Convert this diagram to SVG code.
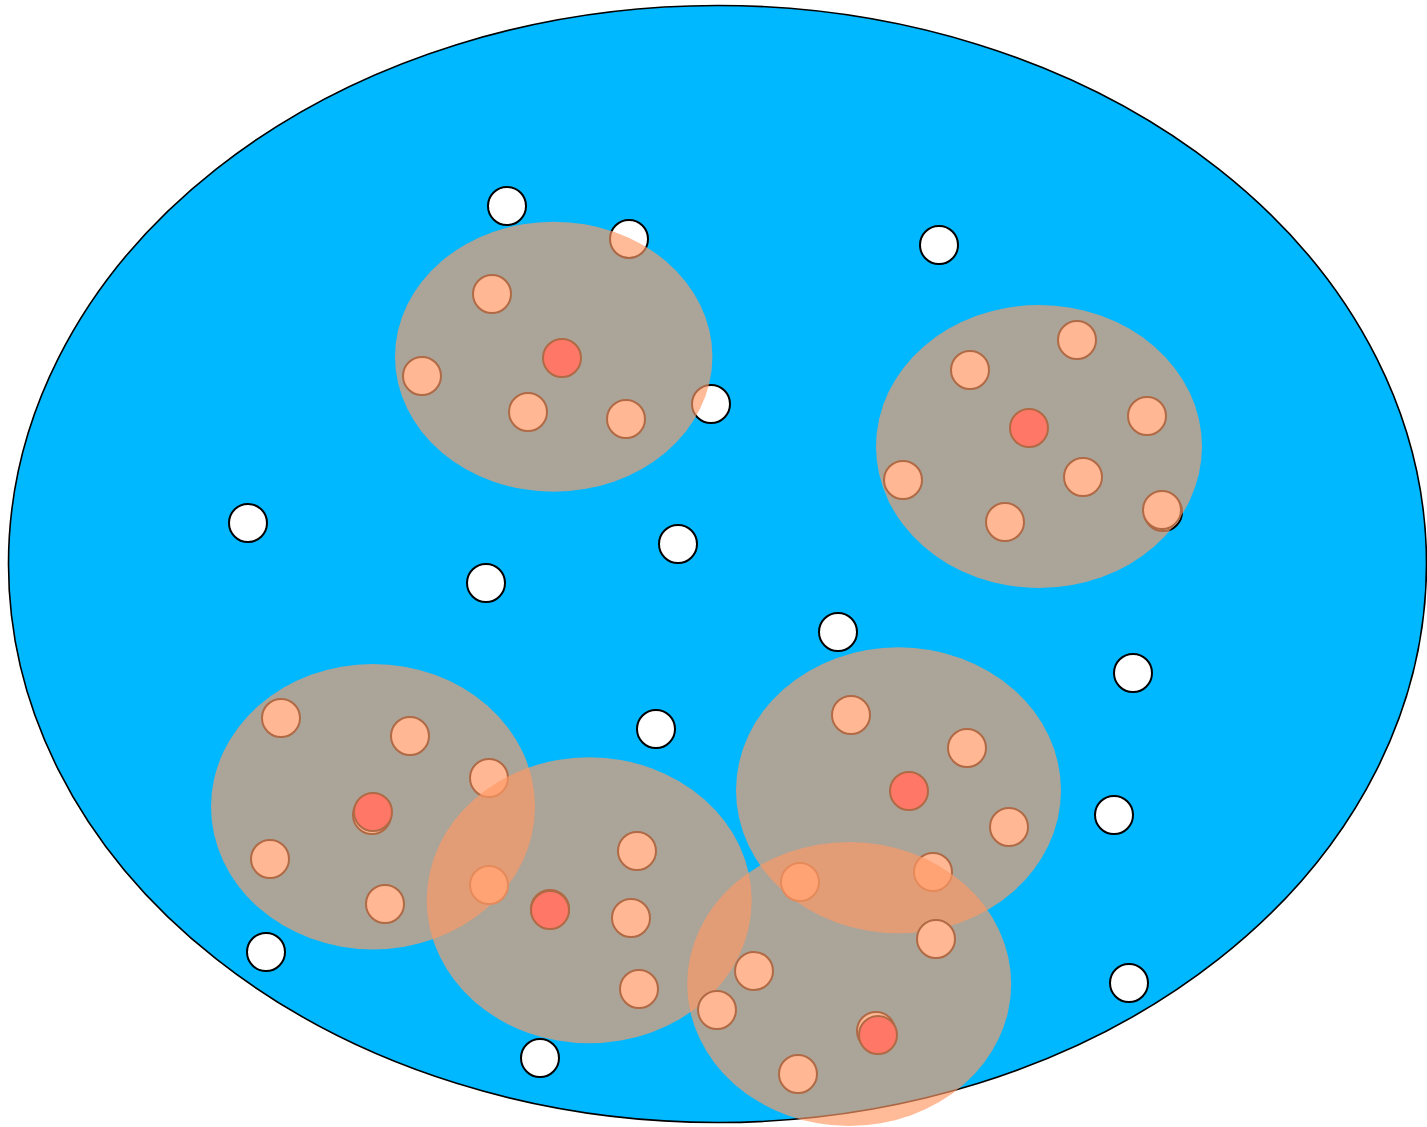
<svg xmlns="http://www.w3.org/2000/svg" width="1427" height="1127" viewBox="0 0 1427 1127">
<style>
.world{fill:#00B8FF;stroke:#000;stroke-width:1.6}
.free{fill:#FFFFFF;stroke:#000;stroke-width:2}
.zone{fill:#FF9966;fill-opacity:0.67;stroke:none}
.m{fill:#FFB794;stroke:#B06A45;stroke-width:2}
.h{fill:#FF7766;stroke:#B06A45;stroke-width:2}
</style>
<rect width="1427" height="1127" fill="#FFFFFF"/>
<g id="world"><ellipse class="world" cx="717.5" cy="564" rx="709" ry="558.5"/></g>
<g id="free-nodes">
<circle id="w1" class="free" cx="507" cy="206" r="19"/>
<circle id="w2" class="free" cx="629" cy="239" r="19"/>
<circle id="w3" class="free" cx="711" cy="404" r="19"/>
<circle id="w4" class="free" cx="939" cy="245" r="19"/>
<circle id="w5" class="free" cx="248" cy="523" r="19"/>
<circle id="w6" class="free" cx="486" cy="583" r="19"/>
<circle id="w7" class="free" cx="678" cy="544" r="19"/>
<circle id="w8" class="free" cx="838" cy="632" r="19"/>
<circle id="w9" class="free" cx="1133" cy="673" r="19"/>
<circle id="w10" class="free" cx="656" cy="729" r="19"/>
<circle id="w11" class="free" cx="1114" cy="815" r="19"/>
<circle id="w12" class="free" cx="266" cy="952" r="19"/>
<circle id="w13" class="free" cx="1129" cy="983" r="19"/>
<circle id="w14" class="free" cx="540" cy="1058" r="19"/>
<circle id="w15" class="free" cx="1163" cy="512" r="19"/>
</g>
<g id="cluster1">
<ellipse class="zone" cx="553.7" cy="356.7" rx="158.7" ry="135"/>
<circle class="m" cx="492" cy="294" r="19"/>
<circle class="m" cx="422" cy="376" r="19"/>
<circle class="m" cx="528" cy="412" r="19"/>
<circle class="m" cx="626" cy="419" r="19"/>
<circle class="h" cx="562" cy="358" r="19"/>
</g>
<g id="cluster2">
<ellipse class="zone" cx="1039" cy="446.5" rx="163" ry="141.5"/>
<circle class="m" cx="970" cy="370" r="19"/>
<circle class="m" cx="1077" cy="340" r="19"/>
<circle class="m" cx="1147" cy="416" r="19"/>
<circle class="m" cx="903" cy="480" r="19"/>
<circle class="m" cx="1083" cy="477" r="19"/>
<circle class="m" cx="1005" cy="522" r="19"/>
<circle class="m" cx="1162" cy="510" r="19"/>
<circle class="h" cx="1029" cy="428" r="19"/>
</g>
<g id="cluster3">
<ellipse class="zone" cx="373" cy="806.7" rx="162" ry="142.7"/>
<circle class="m" cx="281" cy="718" r="19"/>
<circle class="m" cx="410" cy="736" r="19"/>
<circle class="m" cx="489" cy="778" r="19"/>
<circle class="m" cx="270" cy="859" r="19"/>
<circle class="m" cx="385" cy="904" r="19"/>
<circle class="m" cx="489" cy="885" r="19"/>
<circle class="m" cx="372" cy="815" r="19"/>
<circle class="h" cx="373" cy="812" r="19"/>
</g>
<g id="cluster4">
<ellipse class="zone" cx="589.2" cy="900.3" rx="162.5" ry="143"/>
<circle class="m" cx="637" cy="851" r="19"/>
<circle class="m" cx="631" cy="918" r="19"/>
<circle class="m" cx="639" cy="989" r="19"/>
<circle class="m" cx="550" cy="909" r="19"/>
<circle class="h" cx="550" cy="910" r="19"/>
</g>
<g id="cluster5">
<ellipse class="zone" cx="898.5" cy="790.3" rx="162.5" ry="143"/>
<circle class="m" cx="851" cy="715" r="19"/>
<circle class="m" cx="967" cy="748" r="19"/>
<circle class="m" cx="1009" cy="827" r="19"/>
<circle class="m" cx="800" cy="882" r="19"/>
<circle class="m" cx="933" cy="872" r="19"/>
<circle class="h" cx="909" cy="791" r="19"/>
</g>
<g id="cluster6">
<ellipse class="zone" cx="849.2" cy="984" rx="162" ry="142"/>
<circle class="m" cx="936" cy="939" r="19"/>
<circle class="m" cx="754" cy="971" r="19"/>
<circle class="m" cx="717" cy="1010" r="19"/>
<circle class="m" cx="798" cy="1074" r="19"/>
<circle class="m" cx="876" cy="1031" r="19"/>
<circle class="h" cx="878" cy="1035" r="19"/>
</g>
</svg>
